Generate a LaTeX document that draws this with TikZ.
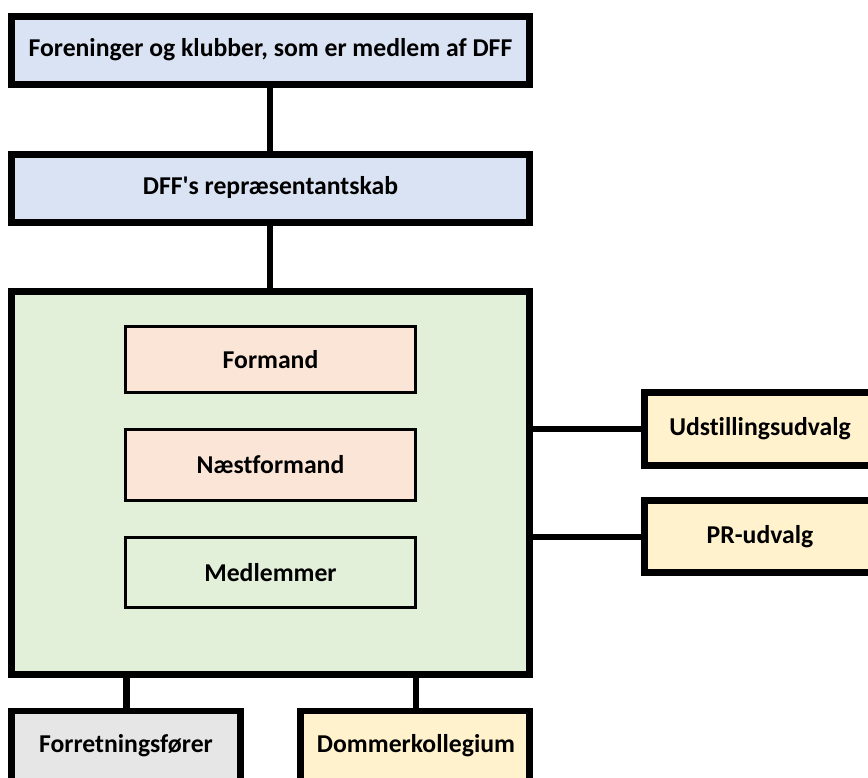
\documentclass[tikz,border=0pt]{standalone}
\usepackage{fontspec}
\setmainfont{Carlito}[Ligatures={TeXOff,CommonOff}]
\definecolor{bluef}{HTML}{DAE3F3}
\definecolor{greenf}{HTML}{E2F0D9}
\definecolor{peachf}{HTML}{FBE5D6}
\definecolor{yellowf}{HTML}{FFF2CC}
\definecolor{greyf}{HTML}{E7E6E6}
\tikzset{
  thickbox/.style={draw=black, line width=6.5pt},
  thinbox/.style={draw=black, line width=3pt},
  conn/.style={draw=black, line width=6.5pt},
  lbl/.style={font=\bfseries\fontsize{25.7}{30}\selectfont, text=black},
}
\begin{document}
\begin{tikzpicture}[x=1pt,y=-1pt]
\useasboundingbox (0,0) rectangle (868,778);
\clip (0,0) rectangle (868,778);
% main boxes
\draw[thickbox, fill=bluef] (11.5,16.5) rectangle (529.5,84.5);
\node[lbl] (top) at (270.5,50) {Foreninger og klubber, som er medlem af DFF};
\coordinate (topS) at (270,84.5);
\draw[thickbox, fill=bluef] (11.5,154.5) rectangle (529.5,222.5);
\node[lbl] (rep) at (270.5,188) {DFF's repræsentantskab};
\coordinate (repN) at (270,154.5);
\coordinate (repS) at (270,222.5);
\draw[thickbox, fill=greenf] (11.5,291.5) rectangle (529.5,674.5);
\coordinate (bestN) at (270,291.5);
\coordinate (bestE1) at (529.5,429);
\coordinate (bestE2) at (529.5,537);
\coordinate (bestS1) at (126.5,674.5);
\coordinate (bestS2) at (416,674.5);
% inner boxes
\draw[thinbox, fill=peachf] (125.5,326.5) rectangle (415,392.5);
\node[lbl] (form) at (270.5,359.5) {Formand};
\draw[thinbox, fill=peachf] (125.5,429) rectangle (415.5,500.5);
\node[lbl] (nform) at (270.5,464.5) {Næstformand};
\draw[thinbox, fill=greenf] (125.5,537.5) rectangle (415.5,607.5);
\node[lbl] (medl) at (270.5,572.5) {Medlemmer};
% right boxes
\draw[thickbox, fill=yellowf] (644.5,392.5) rectangle (890,465.5);
\node[lbl] (udst) at (760,429) {Udstillingsudvalg};
\coordinate (udstW) at (644.5,429);
\draw[thickbox, fill=yellowf] (644.5,500.5) rectangle (890,572.5);
\node[lbl] (pr) at (760,537) {PR-udvalg};
\coordinate (prW) at (644.5,537);
% bottom boxes
\draw[thickbox, fill=greyf] (11.5,711) rectangle (240.5,800);
\node[lbl] (forr) at (126,746) {Forretningsfører};
\coordinate (forrN) at (126.5,711);
\draw[thickbox, fill=yellowf] (300.5,711) rectangle (529.5,800);
\node[lbl] (domm) at (416,746) {Dommerkollegium};
\coordinate (dommN) at (416,711);
% connectors
\draw[conn] (topS) -- (repN);
\draw[conn] (repS) -- (bestN);
\draw[conn] (bestE1) -- (udstW);
\draw[conn] (bestE2) -- (prW);
\draw[conn] (bestS1) -- (forrN);
\draw[conn] (bestS2) -- (dommN);
\end{tikzpicture}
\end{document}
